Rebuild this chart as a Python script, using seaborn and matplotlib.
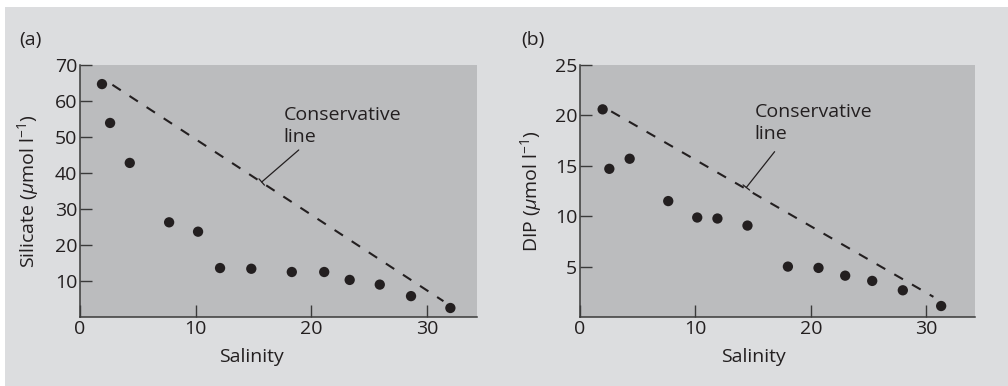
import matplotlib
matplotlib.use("Agg")
import matplotlib.pyplot as plt
import seaborn as sns
import pandas as pd
from matplotlib.patches import Rectangle

# ---------------- data ----------------
sal_a = [1.9, 2.6, 4.3, 7.7, 10.2, 12.1, 14.8, 18.3, 21.1, 23.3, 25.9, 28.6, 32.0]
silicate = [64.7, 53.9, 42.8, 26.3, 23.7, 13.6, 13.4, 12.5, 12.5, 10.3, 9.0, 5.8, 2.5]
cons_a_x = [2.8, 31.4]
cons_a_y = [64.5, 4.4]

sal_b = [1.96, 2.54, 4.3, 7.64, 10.15, 11.9, 14.5, 18.0, 20.65, 22.96, 25.3, 27.95, 31.27]
dip = [20.6, 14.7, 15.7, 11.5, 9.87, 9.77, 9.07, 5.0, 4.87, 4.1, 3.58, 2.65, 1.09]
cons_b_x = [2.7, 30.6]
cons_b_y = [20.4, 2.0]

x_ticks = [0, 10, 20, 30]
y_ticks_a = [10, 20, 30, 40, 50, 60, 70]
y_ticks_b = [5, 10, 15, 20, 25]
panel_labels = ["(a)", "(b)"]
y_labels = ["Silicate ($\\mathit{\\mu}$mol l$^{-1}$)", "DIP ($\\mathit{\\mu}$mol l$^{-1}$)"]
x_label = "Salinity"
cons_text = "Conservative\nline"

# ---------------- style ----------------
sns.set_theme(style="ticks")
FONT = ["Open Sans", "DejaVu Sans"]
plt.rcParams["font.family"] = FONT
plt.rcParams["mathtext.fontset"] = "custom"
plt.rcParams["mathtext.rm"] = "Open Sans"
plt.rcParams["mathtext.it"] = "Open Sans:italic"
plt.rcParams["mathtext.bf"] = "Open Sans:bold"

FIG_BG = "#dcdddf"
AX_BG = "#bbbcbe"
INK = "#231f20"
FS = 14

fig = plt.figure(figsize=(10.08, 3.86), dpi=100, facecolor="white")
fig.patches.append(Rectangle((5 / 1008, 0), 1 - 5 / 1008, 1 - 7 / 386,
                             transform=fig.transFigure, facecolor=FIG_BG,
                             edgecolor="none", zorder=-10))

specs = [
    dict(left=80, width=397, x=sal_a, y=silicate, cx=cons_a_x, cy=cons_a_y,
         ylim=70, xmax=34.3, yt=y_ticks_a, ylab=y_labels[0], ylx=-0.131, xlx=0.433,
         tx=17.6, ty=58.5, ax_tip=(15.7, 37.5), ax_start=(18.9, 46.4), plx=19),
    dict(left=580, width=395, x=sal_b, y=dip, cx=cons_b_x, cy=cons_b_y,
         ylim=25, xmax=34.2, yt=y_ticks_b, ylab=y_labels[1], ylx=-0.124, xlx=0.44,
         tx=15.1, ty=21.2, ax_tip=(14.4, 12.85), ax_start=(16.85, 16.4), plx=521),
]

for i, s in enumerate(specs):
    ax = fig.add_axes([s["left"] / 1008, 1 - 317 / 386, s["width"] / 1008, 252 / 386])
    ax.set_facecolor(AX_BG)
    df = pd.DataFrame({"x": s["x"], "y": s["y"]})
    sns.scatterplot(data=df, x="x", y="y", ax=ax, color=INK, s=55,
                    edgecolor="none", linewidth=0, zorder=3)
    dl = pd.DataFrame({"x": s["cx"], "y": s["cy"]})
    sns.lineplot(data=dl, x="x", y="y", ax=ax, color=INK, linewidth=1.5,
                 dashes=False, zorder=2)
    ax.lines[-1].set_dashes((4.8, 5.0))

    ax.set_xlim(0, s["xmax"])
    ax.set_ylim(0, s["ylim"])
    ax.set_xticks(x_ticks)
    ax.set_yticks(s["yt"])
    ax.tick_params(direction="in", length=8.5, width=1.0, color="#3a3a3a",
                   labelsize=FS, labelcolor=INK, pad=2)
    for sp in ["top", "right"]:
        ax.spines[sp].set_visible(False)
    for sp in ["left", "bottom"]:
        ax.spines[sp].set_color("#3a3a3a")
        ax.spines[sp].set_linewidth(1.1)

    ax.set_xlabel(x_label, fontsize=FS, color=INK)
    ax.set_ylabel(s["ylab"], fontsize=FS, color=INK)
    ax.xaxis.set_label_coords(s["xlx"], -0.159)
    ax.yaxis.set_label_coords(s["ylx"], 0.5)
    ax.xaxis.label.set_va("center")
    ax.yaxis.label.set_va("center")

    ax.text(s["tx"], s["ty"], cons_text, fontsize=FS, color=INK, ha="left",
            va="top", linespacing=1.28)
    ax.annotate("", xy=s["ax_tip"], xytext=s["ax_start"],
                arrowprops=dict(arrowstyle="-[, widthB=0.25, lengthB=0",
                                color=INK, lw=0.9, shrinkA=0, shrinkB=0))

    fig.text(s["plx"] / 1008, 1 - 40 / 386, panel_labels[i], fontsize=FS,
             color=INK, ha="left", va="center")

fig.savefig("out.png", dpi=100, facecolor=fig.get_facecolor())
